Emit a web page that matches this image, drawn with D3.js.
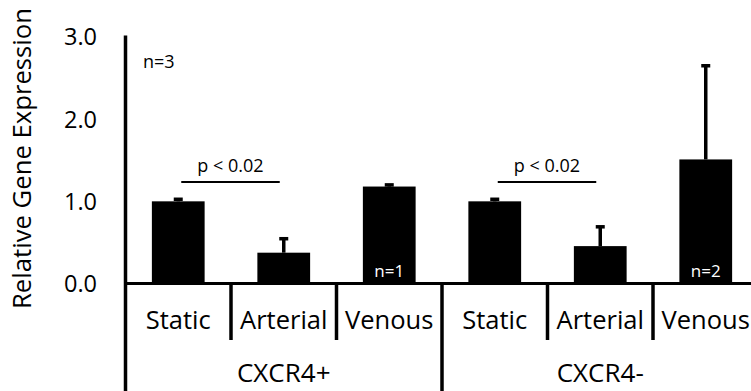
<!DOCTYPE html>
<html>
<head>
<meta charset="utf-8">
<script src="https://cdn.jsdelivr.net/npm/d3@7"></script>
<style>
  html, body { margin: 0; padding: 0; background: #fff; }
  svg { display: block; font-family: "Open Sans", sans-serif; }
</style>
</head>
<body>
<svg id="chart" width="751" height="391"></svg>
<script>
// bar chart: relative gene expression by flow condition, CXCR4+ / CXCR4- groups

const groups = ['CXCR4+', 'CXCR4-'];
const conditions = ['Static', 'Arterial', 'Venous'];
const means = [1.00, 0.375, 1.18, 1.00, 0.455, 1.51];
const errors = [0.025, 0.17, 0.02, 0.025, 0.235, 1.14];
const yTicks = [0, 1, 2, 3];
const nLabels = [
  { idx: 0, text: 'n=3', where: 'corner' },
  { idx: 2, text: 'n=1', where: 'inside' },
  { idx: 5, text: 'n=2', where: 'inside' }
];
const pairs = [
  { from: 0, to: 1, label: 'p < 0.02' },
  { from: 3, to: 4, label: 'p < 0.02' }
];

const rows = [];
groups.forEach((g, gi) => conditions.forEach((c, ci) => {
  const i = gi * conditions.length + ci;
  rows.push({ key: g + '|' + c, group: g, cond: c, mean: means[i], err: errors[i] });
}));

const svg = d3.select('#chart');
const W = 751, H = 391;
const x0 = 125.5;

const x = d3.scaleBand()
  .domain(rows.map(d => d.key))
  .range([x0, x0 + 105.5 * rows.length])
  .paddingInner(0.5)
  .paddingOuter(0.25);

const y = d3.scaleLinear().domain([0, 3]).range([283.5, 37]);

const step = x.step();
const left = x0;
const cx = d => x(d.key) + x.bandwidth() / 2;

// bars
svg.append('g').selectAll('rect')
  .data(rows)
  .join('rect')
  .attr('x', d => x(d.key))
  .attr('y', d => y(d.mean))
  .attr('width', x.bandwidth())
  .attr('height', d => y(0) - y(d.mean))
  .attr('fill', '#000');

// error bars (upper only)
const eb = svg.append('g');
eb.selectAll('line')
  .data(rows)
  .join('line')
  .attr('x1', cx).attr('x2', cx)
  .attr('y1', d => y(d.mean))
  .attr('y2', d => y(d.mean + d.err))
  .attr('stroke', '#000')
  .attr('stroke-width', 3.5);
eb.selectAll('rect')
  .data(rows)
  .join('rect')
  .attr('x', d => cx(d) - 4.5)
  .attr('y', d => y(d.mean + d.err) - 1.75)
  .attr('width', 9)
  .attr('height', 3.5)
  .attr('fill', '#000');

// y axis line (runs to bottom of figure)
svg.append('line')
  .attr('x1', left).attr('x2', left)
  .attr('y1', y(3) - 1.5).attr('y2', H)
  .attr('stroke', '#000').attr('stroke-width', 3.5);

// baseline
svg.append('line')
  .attr('x1', left).attr('x2', W)
  .attr('y1', y(0)).attr('y2', y(0))
  .attr('stroke', '#000').attr('stroke-width', 3);

// y tick labels
svg.append('g').selectAll('text')
  .data(yTicks)
  .join('text')
  .attr('x', 97)
  .attr('y', d => y(d))
  .attr('dy', '0.36em')
  .attr('text-anchor', 'end')
  .attr('font-size', 23.5)
  .text(d => d3.format('.1f')(d));

// y axis title
svg.append('text')
  .attr('transform', `translate(31,${158.5}) rotate(-90)`)
  .attr('text-anchor', 'middle')
  .attr('font-size', 25.7)
  .text('Relative Gene Expression');

// dividers below baseline
const divs = d3.range(1, rows.length).map(i => ({
  x: left + i * step,
  full: i % conditions.length === 0
}));
svg.append('g').selectAll('line')
  .data(divs)
  .join('line')
  .attr('x1', d => d.x).attr('x2', d => d.x)
  .attr('y1', y(0))
  .attr('y2', d => d.full ? H : 340)
  .attr('stroke', '#000').attr('stroke-width', 3.5);

// condition labels
svg.append('g').selectAll('text')
  .data(rows)
  .join('text')
  .attr('x', cx)
  .attr('y', 329)
  .attr('text-anchor', 'middle')
  .attr('font-size', 25.5)
  .text(d => d.cond);

// group labels
svg.append('g').selectAll('text')
  .data(groups)
  .join('text')
  .attr('x', (g, gi) => left + (gi + 0.5) * conditions.length * step)
  .attr('y', 382)
  .attr('text-anchor', 'middle')
  .attr('font-size', 26)
  .text(d => d);

// significance brackets
const sig = svg.append('g');
pairs.forEach(p => {
  const a = cx(rows[p.from]) + 3, b = cx(rows[p.to]) - 4;
  sig.append('line')
    .attr('x1', a).attr('x2', b)
    .attr('y1', 182).attr('y2', 182)
    .attr('stroke', '#000').attr('stroke-width', 2);
  sig.append('text')
    .attr('x', (a + b) / 2)
    .attr('y', 171.5)
    .attr('text-anchor', 'middle')
    .attr('font-size', 18)
    .text(p.label);
});

// n labels
svg.append('g').selectAll('text')
  .data(nLabels)
  .join('text')
  .attr('x', d => d.where === 'corner' ? 143 : cx(rows[d.idx]))
  .attr('y', d => d.where === 'corner' ? 68 : 277)
  .attr('text-anchor', d => d.where === 'corner' ? 'start' : 'middle')
  .attr('fill', d => d.where === 'corner' ? '#000' : '#fff')
  .attr('font-size', d => d.where === 'corner' ? 18 : 17)
  .text(d => d.text);
</script>
</body>
</html>
